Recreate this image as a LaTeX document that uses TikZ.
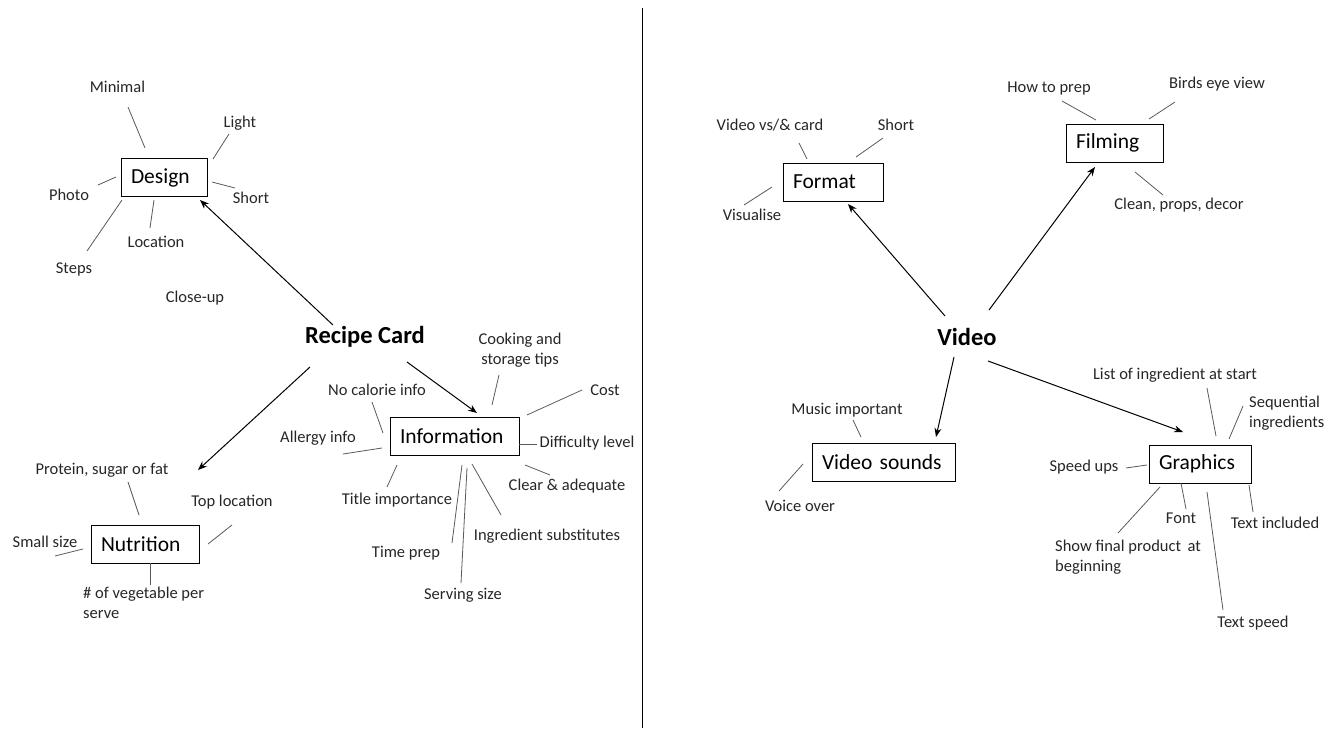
\documentclass[tikz,border=0pt]{standalone}
\usepackage{fontspec}
\setmainfont{Carlito}
\usetikzlibrary{arrows.meta}
\tikzset{
  lbl/.style={font=\fontsize{16.5}{20}\selectfont, inner sep=0pt, text=black!85},
  boxn/.style={draw, line width=0.9pt, minimum height=38pt, inner xsep=10pt, inner ysep=0pt, align=left, font=\fontsize{21.5}{24}\selectfont},
  ttl/.style={font=\bfseries\fontsize{24.5}{28}\selectfont, inner sep=0pt},
  lk/.style={draw=black!65, line width=0.8pt},
  arr/.style={-{Stealth[length=9pt,width=7pt]}, line width=1pt}
}
\begin{document}
\begin{tikzpicture}[x=1pt,y=-1pt]
\useasboundingbox (0,0) rectangle (1325,731);
% divider
\coordinate (divT) at (642.5,8);
\coordinate (divB) at (642.5,728);
\draw[line width=1.6pt] (divT) -- (divB);

% ================= LEFT =================
\node[ttl] (rc) at (365,337) {Recipe Card};

\node[boxn, text width=66pt] (design) at (164,177.5) {Design};
\node[boxn, text width=109pt] (info) at (454.5,436) {Information};
\node[boxn, text width=88pt] (nutr) at (145,544.5) {Nutrition};

% arrows
\coordinate (a1s) at (333,325); \coordinate (a1e) at (200,200);
\coordinate (a2s) at (407,362); \coordinate (a2e) at (477,413);
\coordinate (a3s) at (310,367); \coordinate (a3e) at (198,470);
\draw[arr] (a1s) -- (a1e);
\draw[arr] (a2s) -- (a2e);
\draw[arr] (a3s) -- (a3e);

% design leaves
\node[lbl] (minimal) at (117.5,87) {Minimal};
\node[lbl] (light) at (240,123) {Light};
\node[lbl] (dshort) at (251,198) {Short};
\node[lbl] (photo) at (69,195) {Photo};
\node[lbl] (steps) at (74,269) {Steps};
\node[lbl] (location) at (156,242) {Location};
\node[lbl] (closeup) at (195,298) {Close-up};
\coordinate (l1a) at (128,107); \coordinate (l1b) at (145,148);
\coordinate (l2a) at (229,134); \coordinate (l2b) at (213,159);
\coordinate (l3a) at (212,182); \coordinate (l3b) at (235,188);
\coordinate (l4a) at (98,185); \coordinate (l4b) at (116,177);
\coordinate (l5a) at (87,251); \coordinate (l5b) at (122,200);
\coordinate (l6a) at (150,228); \coordinate (l6b) at (154,200);
\draw[lk] (l1a) -- (l1b);
\draw[lk] (l2a) -- (l2b);
\draw[lk] (l3a) -- (l3b);
\draw[lk] (l4a) -- (l4b);
\draw[lk] (l5a) -- (l5b);
\draw[lk] (l6a) -- (l6b);

% information leaves
\node[lbl, align=center] (cook) at (520,350) {Cooking and\\storage tips};
\node[lbl] (cost) at (605,390) {Cost};
\node[lbl] (nocal) at (377,390) {No calorie info};
\node[lbl] (allergy) at (318,438) {Allergy info};
\node[lbl] (diff) at (587,443) {Difficulty level};
\node[lbl] (clear) at (567,486) {Clear \& adequate};
\node[lbl] (title) at (397,500) {Title importance};
\node[lbl] (subst) at (547,536) {Ingredient substitutes};
\node[lbl] (timep) at (406,553) {Time prep};
\node[lbl] (serv) at (463,595) {Serving size};
\coordinate (i1a) at (499,375); \coordinate (i1b) at (492,405);
\coordinate (i2a) at (582,390); \coordinate (i2b) at (527,415);
\coordinate (i3a) at (372,402); \coordinate (i3b) at (383,433);
\coordinate (i4a) at (343,454); \coordinate (i4b) at (382,448);
\coordinate (i5a) at (519,444); \coordinate (i5b) at (537,444);
\coordinate (i6a) at (525,465); \coordinate (i6b) at (550,475);
\coordinate (i7a) at (397,465); \coordinate (i7b) at (387,487);
\coordinate (i8a) at (472,464); \coordinate (i8b) at (501,515);
\coordinate (i9a) at (462,465); \coordinate (i9b) at (452,543);
\coordinate (i10a) at (467,468); \coordinate (i10b) at (461,583);
\foreach \k in {1,...,10}{\draw[lk] (i\k a) -- (i\k b);}

% nutrition leaves
\node[lbl] (protein) at (102,470) {Protein, sugar or fat};
\node[lbl] (toploc) at (232,502) {Top location};
\node[lbl] (small) at (45,542) {Small size};
\node[lbl, align=left, anchor=west] (veg) at (83,603) {\# of vegetable per\\serve};
\coordinate (n1a) at (128,482); \coordinate (n1b) at (139,515);
\coordinate (n2a) at (232,525); \coordinate (n2b) at (208,544);
\coordinate (n3a) at (55,556); \coordinate (n3b) at (83,549);
\coordinate (n4a) at (150,563); \coordinate (n4b) at (150,585);
\foreach \k in {1,...,4}{\draw[lk] (n\k a) -- (n\k b);}

% ================= RIGHT =================
\node[ttl] (video) at (967,337) {Video};

\node[boxn, text width=80pt] (format) at (833,182) {Format};
\node[boxn, text width=77pt] (film) at (1114.5,143) {Filming};
\node[boxn, text width=123pt] (sounds) at (883.5,462) {Video sounds};
\node[boxn, text width=82pt] (graph) at (1200,464) {Graphics};

\coordinate (b1s) at (945,316); \coordinate (b1e) at (848,204);
\coordinate (b2s) at (989,310); \coordinate (b2e) at (1095,167);
\coordinate (b3s) at (954,357); \coordinate (b3e) at (936,437);
\coordinate (b4s) at (988,361); \coordinate (b4e) at (1183,432);
\draw[arr] (b1s) -- (b1e);
\draw[arr] (b2s) -- (b2e);
\draw[arr] (b3s) -- (b3e);
\draw[arr] (b4s) -- (b4e);

% format leaves
\node[lbl] (vvs) at (770,125) {Video vs/\& card};
\node[lbl] (fshort) at (896,125) {Short};
\node[lbl] (visual) at (752,215) {Visualise};
\coordinate (f1a) at (799,143); \coordinate (f1b) at (807,159);
\coordinate (f2a) at (883,138); \coordinate (f2b) at (856,157);
\coordinate (f3a) at (744,205); \coordinate (f3b) at (772,187);
\foreach \k in {1,...,3}{\draw[lk] (f\k a) -- (f\k b);}

% filming leaves
\node[lbl] (howto) at (1049,89) {How to prep};
\node[lbl] (birds) at (1217,84) {Birds eye view};
\node[lbl] (clean) at (1179,205) {Clean, props, decor};
\coordinate (m1a) at (1062,101); \coordinate (m1b) at (1096,120);
\coordinate (m2a) at (1175,102); \coordinate (m2b) at (1149,119);
\coordinate (m3a) at (1135,172); \coordinate (m3b) at (1163,195);
\foreach \k in {1,...,3}{\draw[lk] (m\k a) -- (m\k b);}

% sounds leaves
\node[lbl] (music) at (847,410) {Music important};
\node[lbl] (voice) at (800,506) {Voice over};
\coordinate (s1a) at (853,420); \coordinate (s1b) at (861,437);
\coordinate (s2a) at (779,491); \coordinate (s2b) at (803,464);
\foreach \k in {1,2}{\draw[lk] (s\k a) -- (s\k b);}

% graphics leaves
\node[lbl] (list) at (1175,375) {List of ingredient at start};
\node[lbl, align=left, anchor=west] (seq) at (1249,413) {Sequential\\ingredients};
\node[lbl] (speed) at (1084,467) {Speed ups};
\node[lbl, align=left, anchor=west] (final) at (1055,557) {Show final product\, at\\beginning};
\node[lbl] (font) at (1181,518) {Font};
\node[lbl] (tspeed) at (1253,623) {Text speed};
\node[lbl] (tinc) at (1275,523) {Text included};
\coordinate (g1a) at (1207,388); \coordinate (g1b) at (1216,436);
\coordinate (g2a) at (1243,406); \coordinate (g2b) at (1229,439);
\coordinate (g3a) at (1126,468); \coordinate (g3b) at (1147,465);
\coordinate (g4a) at (1118,533); \coordinate (g4b) at (1160,487);
\coordinate (g5a) at (1181,483); \coordinate (g5b) at (1186,509);
\coordinate (g6a) at (1207,492); \coordinate (g6b) at (1223,610);
\coordinate (g7a) at (1249,485); \coordinate (g7b) at (1253,512);
\foreach \k in {1,...,7}{\draw[lk] (g\k a) -- (g\k b);}
\end{tikzpicture}
\end{document}
